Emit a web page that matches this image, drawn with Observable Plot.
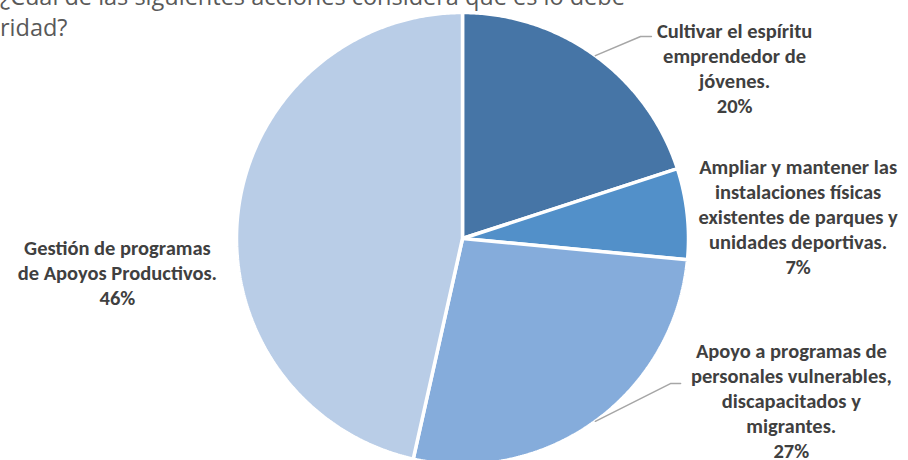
<!DOCTYPE html>
<html>
<head>
<meta charset="utf-8">
<script src="https://cdn.jsdelivr.net/npm/d3@7"></script>
<script src="https://cdn.jsdelivr.net/npm/@observablehq/plot@0.6"></script>
<style>
  html, body { margin: 0; padding: 0; background: #fff; }
  #wrap { position: relative; width: 908px; height: 460px; overflow: hidden; }
  #title { position: absolute; left: 0; top: -19px; font-family: "Open Sans", sans-serif; font-size: 23.5px; line-height: 31px; color: #595959; white-space: nowrap; }
  #chart { position: absolute; left: 0; top: 0; }
</style>
</head>
<body>
<div id="wrap">
  <div id="chart"></div>
  <div id="title">¿Cuál de las siguientes acciones considera que es lo debe<br>ridad?</div>
</div>
<script>
// Categories (clockwise from 12 o'clock) and values
const categories = [
  "Cultivar el espíritu\nemprendedor de\njóvenes.",
  "Ampliar y mantener las\ninstalaciones físicas\nexistentes de parques y\nunidades deportivas.",
  "Apoyo a programas de\npersonales vulnerables,\ndiscapacitados y\nmigrantes.",
  "Gestión de programas\nde Apoyos Productivos."
];
const values = [20.0, 6.5, 27.0, 46.5];
const percentLabels = ["20%", "7%", "27%", "46%"];
const colors = ["#4675A6", "#5290C9", "#85ACDB", "#B9CDE7"];

// label placement (in radius units, relative to pie centre)
const labelX = [1.204, 1.485, 1.455, -1.527];
const labelY = [0.755, 0.10, -0.715, -0.15];
// leader lines: slice index, elbow and end (radius units)
const leaderSlice = [0, 2];
const leaderElbow = [[0.788, 0.894], [0.920, -0.642]];
const leaderEnd = [[0.836, 0.894], [0.965, -0.642]];

const pie = d3.pie().sort(null).value(d => d)(values);

// slice outlines
const slicePts = [];
pie.forEach((p, i) => {
  const name = categories[i];
  slicePts.push({name, x: 0, y: 0});
  const n = Math.max(2, Math.ceil((p.endAngle - p.startAngle) / (Math.PI / 360)));
  for (let k = 0; k <= n; k++) {
    const a = p.startAngle + (p.endAngle - p.startAngle) * k / n;
    slicePts.push({name, x: Math.sin(a), y: Math.cos(a)});
  }
  slicePts.push({name, x: 0, y: 0});
});

const labels = categories.map((c, i) => ({text: c + "\n" + percentLabels[i], x: labelX[i], y: labelY[i]}));

const leaderPts = [];
leaderSlice.forEach((s, j) => {
  const p = pie[s];
  const mid = (p.startAngle + p.endAngle) / 2;
  leaderPts.push({id: j, x: Math.sin(mid), y: Math.cos(mid)});
  leaderPts.push({id: j, x: leaderElbow[j][0], y: leaderElbow[j][1]});
  leaderPts.push({id: j, x: leaderEnd[j][0], y: leaderEnd[j][1]});
});

const chart = Plot.plot({
  width: 908,
  height: 460,
  x: {domain: [-1, 1], range: [236, 688], axis: null},
  y: {domain: [-1, 1], range: [464, 12], axis: null},
  color: {domain: categories, range: colors},
  style: {background: "transparent"},
  marks: [
    Plot.line(slicePts, {x: "x", y: "y", z: "name", fill: "name", stroke: "#fff", strokeWidth: 3.5, strokeLinejoin: "miter", curve: "linear"}),
    Plot.line(leaderPts, {x: "x", y: "y", z: "id", stroke: "#A6A6A6", strokeWidth: 1.5}),
    Plot.text(labels, {x: "x", y: "y", text: "text", fontFamily: "Carlito, Lato, sans-serif", fontWeight: "bold", fontSize: 20.5, lineHeight: 1.22, fill: "#404040", textAnchor: "middle", lineAnchor: "middle"})
  ]
});
document.getElementById("chart").appendChild(chart);
</script>
</body>
</html>
